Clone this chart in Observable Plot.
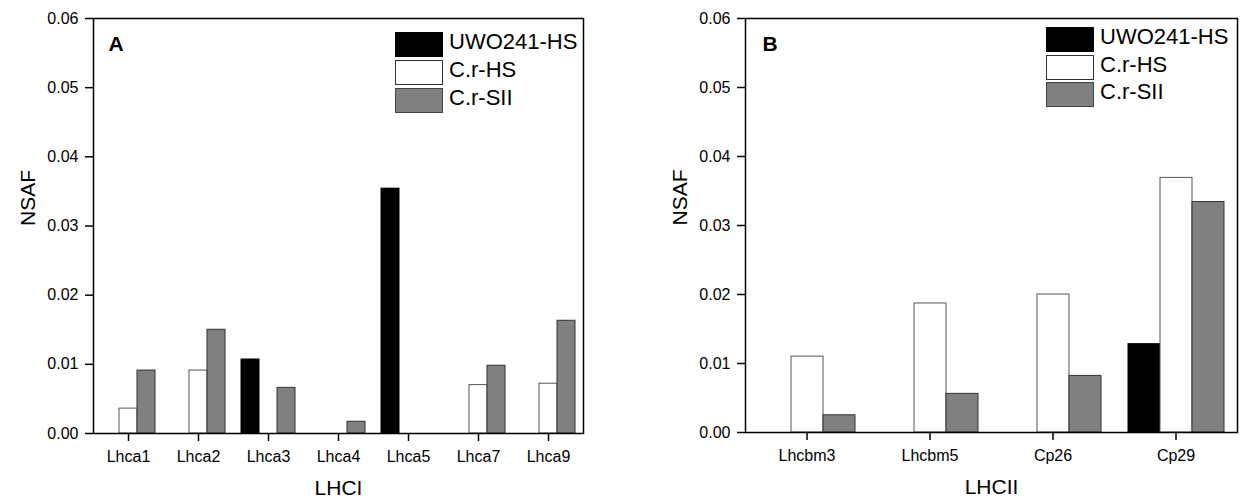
<!DOCTYPE html>
<html>
<head>
<meta charset="utf-8">
<script src="https://cdn.jsdelivr.net/npm/d3@7"></script>
<script src="https://cdn.jsdelivr.net/npm/@observablehq/plot@0.6"></script>
<style>
  html, body { margin: 0; padding: 0; background: #fff; }
  #wrap { display: flex; flex-direction: row; width: 1243px; height: 501px; }
  .panel { position: relative; }
  .legend { position: absolute; font-family: 'Liberation Sans', Arial, sans-serif; font-size: 22px; color: #000; }
  .legend .row { position: absolute; left: 0; display: flex; align-items: center; white-space: nowrap; }
  .legend .sw { box-sizing: border-box; width: 48px; height: 25px; border: 1.5px solid #333; }
  .legend .lab { margin-left: 6px; line-height: 25px; position: relative; top: -3px; }
</style>
</head>
<body>
<div id="wrap"></div>
<script>
// ---- data ----
const seriesNames = ["UWO241-HS", "C.r-HS", "C.r-SII"];
const seriesFill = ["#000000", "#ffffff", "#808080"];
const seriesStroke = ["#000000", "#555555", "#333333"];
const legendBorder = ["#000000", "#333333", "#444444"];

const lhciCategories = ["Lhca1", "Lhca2", "Lhca3", "Lhca4", "Lhca5", "Lhca7", "Lhca9"];
const lhciUWO   = [0, 0, 0.0107, 0, 0.0354, 0, 0];
const lhciCrHS  = [0.0036, 0.0091, 0, 0, 0, 0.0070, 0.0072];
const lhciCrSII = [0.0091, 0.0150, 0.0066, 0.0017, 0, 0.0098, 0.0163];

const lhciiCategories = ["Lhcbm3", "Lhcbm5", "Cp26", "Cp29"];
const lhciiUWO   = [0, 0, 0, 0.0128];
const lhciiCrHS  = [0.0110, 0.0187, 0.0200, 0.0369];
const lhciiCrSII = [0.0025, 0.0056, 0.0082, 0.0334];

const yTicks = [0, 0.01, 0.02, 0.03, 0.04, 0.05, 0.06];
const yLabel = "NSAF";

function rowsFor(cats, arrays) {
  const rows = [];
  cats.forEach((c, i) => {
    seriesNames.forEach((s, j) => {
      rows.push({cat: c, series: s, value: arrays[j][i]});
    });
  });
  return rows;
}

const fillOf = s => seriesFill[seriesNames.indexOf(s)];
const strokeOf = s => seriesStroke[seriesNames.indexOf(s)];

function makePanel(cfg) {
  const rows = rowsFor(cfg.cats, cfg.arrays);
  const font = "'Liberation Sans', Arial, sans-serif";
  const chart = Plot.plot({
    width: cfg.width,
    height: 501,
    marginLeft: cfg.marginLeft,
    marginRight: cfg.marginRight,
    marginTop: 18,
    marginBottom: cfg.marginBottom,
    style: {fontFamily: font, fontSize: "16px", color: "#000", background: "#fff", overflow: "visible"},
    fx: {domain: cfg.cats, paddingInner: 0, paddingOuter: 0, label: null},
    x: {domain: seriesNames, paddingInner: 0, paddingOuter: cfg.groupPad, axis: null},
    y: {domain: [0, 0.06]},
    color: {type: "identity"},
    marks: [
      Plot.barY(rows.filter(d => d.value > 0), {
        fx: "cat", x: "series", y: "value",
        fill: d => fillOf(d.series), stroke: d => strokeOf(d.series), strokeWidth: 1
      }),
      Plot.axisY({ticks: yTicks, tickFormat: d3.format(".2f"), tickSize: 8, tickPadding: 7, label: null, fontSize: 16, strokeWidth: 1.5}),
      Plot.axisFx({anchor: "bottom", tickSize: 8, tickPadding: 9, label: null, fontSize: 16, strokeWidth: 1.5}),
      Plot.frame({facet: "super", stroke: "#000", strokeWidth: 1.5}),
      Plot.text([cfg.letter], {text: d => d, frameAnchor: "top-left", textAnchor: "start", lineAnchor: "middle",
        dx: cfg.letterDx, dy: 26, fontSize: 21, fontWeight: "bold", facet: "super"}),
      Plot.text([cfg.xTitle], {text: d => d, frameAnchor: "bottom", lineAnchor: "middle", dy: 55, fontSize: 21, facet: "super"}),
      Plot.text([yLabel], {text: d => d, frameAnchor: "left", rotate: -90, lineAnchor: "middle", dx: -65, fontSize: 21, facet: "super"})
    ]
  });
  const panel = document.createElement("div");
  panel.className = "panel";
  panel.style.width = cfg.width + "px";
  panel.appendChild(chart);
  const legend = document.createElement("div");
  legend.className = "legend";
  legend.style.left = cfg.legendLeft + "px";
  legend.style.top = cfg.legendTop + "px";
  seriesNames.forEach((s, j) => {
    const row = document.createElement("div");
    row.className = "row";
    row.style.top = (j * cfg.legendStep) + "px";
    const sw = document.createElement("div");
    sw.className = "sw";
    sw.style.background = seriesFill[j];
    sw.style.borderColor = legendBorder[j];
    const lab = document.createElement("span");
    lab.className = "lab";
    lab.textContent = s;
    row.appendChild(sw);
    row.appendChild(lab);
    legend.appendChild(row);
  });
  panel.appendChild(legend);
  return panel;
}

const wrap = document.getElementById("wrap");
wrap.appendChild(makePanel({
  cats: lhciCategories, arrays: [lhciUWO, lhciCrHS, lhciCrSII],
  width: 620, marginLeft: 90, marginRight: 35, marginBottom: 68,
  groupPad: 0.36, letter: "A", letterDx: 15, xTitle: "LHCI",
  legendLeft: 395, legendTop: 32, legendStep: 28
}));
wrap.appendChild(makePanel({
  cats: lhciiCategories, arrays: [lhciiUWO, lhciiCrHS, lhciiCrSII],
  width: 623, marginLeft: 124, marginRight: 6, marginBottom: 69,
  groupPad: 0.39, letter: "B", letterDx: 17, xTitle: "LHCII",
  legendLeft: 426, legendTop: 27, legendStep: 27.6
}));
</script>
</body>
</html>
